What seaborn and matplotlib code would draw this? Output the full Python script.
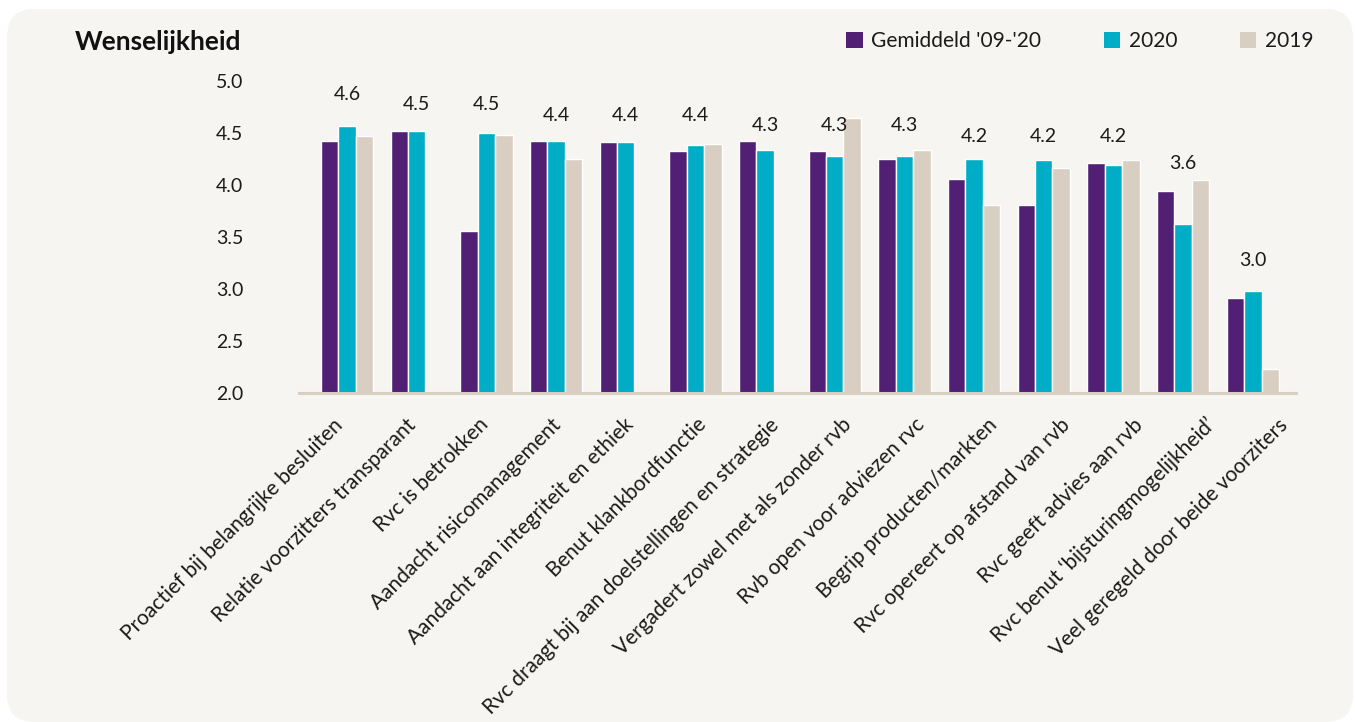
import numpy as np
import pandas as pd
import matplotlib
matplotlib.use("Agg")
import matplotlib.pyplot as plt
from matplotlib.patches import FancyBboxPatch, Patch
from matplotlib.transforms import ScaledTranslation
import seaborn as sns

categories = [
    "Proactief bij belangrijke besluiten",
    "Relatie voorzitters transparant",
    "Rvc is betrokken",
    "Aandacht risicomanagement",
    "Aandacht aan integriteit en ethiek",
    "Benut klankbordfunctie",
    "Rvc draagt bij aan doelstellingen en strategie",
    "Vergadert zowel met als zonder rvb",
    "Rvb open voor adviezen rvc",
    "Begrip producten/markten",
    "Rvc opereert op afstand van rvb",
    "Rvc geeft advies aan rvb",
    "Rvc benut \u2018bijsturingmogelijkheid\u2019",
    "Veel geregeld door beide voorziters",
]
gemiddeld = [4.42, 4.52, 3.56, 4.42, 4.41, 4.33, 4.42, 4.33, 4.25, 4.06, 3.81, 4.21, 3.94, 2.91]
v2020 = [4.57, 4.52, 4.50, 4.42, 4.41, 4.38, 4.34, 4.28, 4.28, 4.25, 4.24, 4.19, 3.62, 2.98]
v2019 = [4.47, np.nan, 4.48, 4.25, np.nan, 4.39, np.nan, 4.64, 4.34, 3.81, 4.16, 4.24, 4.05, 2.23]
labels_2020 = [4.6, 4.5, 4.5, 4.4, 4.4, 4.4, 4.3, 4.3, 4.3, 4.2, 4.2, 4.2, 3.6, 3.0]
series = ["Gemiddeld '09-'20", "2020", "2019"]
colors = ["#512074", "#00ADC6", "#D9CEC2"]
yticks = [2.0, 2.5, 3.0, 3.5, 4.0, 4.5, 5.0]

FONT = ["Lato", "DejaVu Sans"]
TXT = "#1b1b1b"

rows = []
for i, c in enumerate(categories):
    for s, vals in zip(series, [gemiddeld, v2020, v2019]):
        if not np.isnan(vals[i]):
            rows.append({"cat": c, "series": s, "val": vals[i]})
df = pd.DataFrame(rows)

sns.set_theme(style="white")
plt.rcParams["font.family"] = FONT

W, H = 1355, 722
fig = plt.figure(figsize=(W / 100, H / 100), dpi=100, facecolor="white")

panel = FancyBboxPatch((0.07, 0.0), (1353 - 7) / 100, (722 - 9) / 100,
                       boxstyle="round,pad=0,rounding_size=0.28",
                       transform=fig.dpi_scale_trans, facecolor="#F6F5F1",
                       edgecolor="none", zorder=-10)
fig.patches.append(panel)

ax = fig.add_axes([299 / W, 1 - 392.5 / H, (1296 - 299) / W, (392.5 - 81) / H])
ax.set_facecolor("none")
ax.set_zorder(1)

sns.barplot(data=df, x="cat", y="val", hue="series", order=categories,
            hue_order=series, palette=colors, saturation=1, width=0.75,
            errorbar=None, legend=False, ax=ax, zorder=2)

ax.set_ylim(2.0, 5.0)
ax.set_xlim(-0.69, 13.62)
ax.set_yticks(yticks)
ax.set_yticklabels([f"{t:.1f}" for t in yticks], fontsize=14, color=TXT)
ax.tick_params(axis="y", length=0, pad=40)
ax.tick_params(axis="x", length=0, pad=21)
ax.set_xticks(range(len(categories)))
ax.set_xticklabels(categories, rotation=45, ha="right", va="center",
                   rotation_mode="anchor", fontsize=15, color=TXT)
# the category labels in the original are spread slightly wider than the bar groups
for i, lbl in enumerate(ax.get_xticklabels()):
    dx = (-7 + 3.0 * i) / 100
    lbl.set_transform(lbl.get_transform() + ScaledTranslation(dx, 0, fig.dpi_scale_trans))
ax.set_xlabel("")
ax.set_ylabel("")
for side in ["left", "right", "top"]:
    ax.spines[side].set_visible(False)
ax.spines["bottom"].set_color("#D9CEC2")
ax.spines["bottom"].set_linewidth(2.2)
ax.spines["bottom"].set_zorder(3)

g = np.array(gemiddeld)
lab = np.array(labels_2020)
ypos = np.where(g - lab > 0.2, g, lab) + 0.27
for i, (lv, yp) in enumerate(zip(labels_2020, ypos)):
    ax.text(i, yp, f"{lv:.1f}", ha="center", va="center", fontsize=14,
            color=TXT, zorder=4)

fig.text(75 / W, 1 - 42 / H, "Wenselijkheid", ha="left", va="center",
         fontsize=19, fontweight="bold", color="#111111")

handles = [Patch(facecolor=c, edgecolor="none", label=s) for s, c in zip(series, colors)]
fig.legend(handles=handles, loc="center left", bbox_to_anchor=(846 / W, 1 - 41 / H),
           ncol=3, frameon=False, fontsize=15, handlelength=0.8, handleheight=0.8,
           handletextpad=0.4, columnspacing=3.0, borderpad=0, borderaxespad=0,
           labelcolor=TXT)

fig.savefig("out.png", dpi=100, facecolor="white")
